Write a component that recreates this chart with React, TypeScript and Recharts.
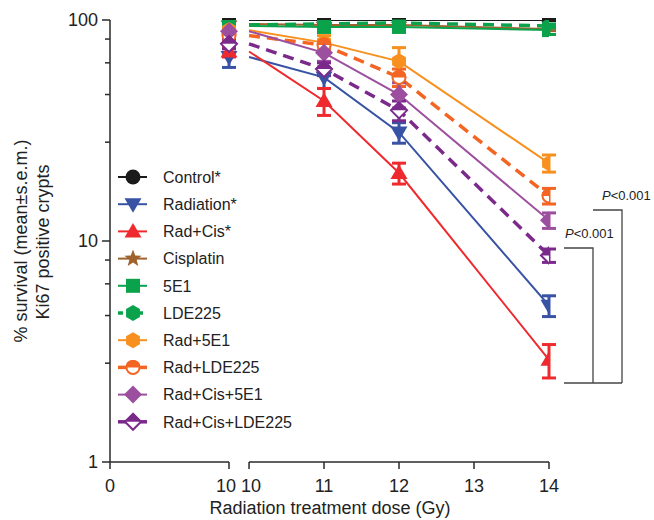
import React from 'react';
import { ComposedChart, Line, Scatter, XAxis, YAxis, ErrorBar, ReferenceLine } from 'recharts';

// ---- data ----
const doses = [10, 11, 12, 14];
const xTickDoses = [0, 10, 10, 11, 12, 13, 14];
const yTicks = [1, 2.8, 4.6, 6.4, 8.2, 10, 28, 46, 64, 82, 100];
const yMajor = [1, 10, 100];

const controlVals = [100, 100, 100, 100];
const controlErr = [0.5, 0.5, 0.5, 0.5];
const radiationVals = [68, 55, 31, 5.1];
const radiationErr = [7, 6, 3.3, 0.55];
const radCisVals = [72, 43, 20.3, 2.9];
const radCisErr = [4, 6, 2.2, 0.5];
const cisplatinVals = [96, 95, 95, 91];
const cisplatinErr = [2, 1.5, 1.5, 1.5];
const e5e1Vals = [94, 93, 93, 90];
const e5e1Err = [3, 4, 4, 4];
const lde225Vals = [95, 96, 97, 94];
const lde225Err = [2, 2, 2, 2];
const rad5e1Vals = [90, 79, 65, 22.5];
const rad5e1Err = [4, 6, 10, 2];
const radLdeVals = [85, 77, 55, 16];
const radLdeErr = [4, 4, 5, 1.3];
const radCis5e1Vals = [89, 71, 46, 12.4];
const radCis5e1Err = [6, 6, 6, 1];
const radCisLdeVals = [78, 60, 39, 8.6];
const radCisLdeErr = [4, 4, 4, 0.6];

const seriesNames = ['Control*', 'Radiation*', 'Rad+Cis*', 'Cisplatin', '5E1', 'LDE225', 'Rad+5E1', 'Rad+LDE225', 'Rad+Cis+5E1', 'Rad+Cis+LDE225'];

// ---- styles ----
const series = [
  { name: seriesNames[0], vals: controlVals, err: controlErr, color: '#1b1b1b', shape: 'circle', dashed: false, legend: 'solid' },
  { name: seriesNames[1], vals: radiationVals, err: radiationErr, color: '#3953a4', shape: 'triDown', dashed: false, legend: 'solid' },
  { name: seriesNames[2], vals: radCisVals, err: radCisErr, color: '#ee2a2e', shape: 'triUp', dashed: false, legend: 'solid' },
  { name: seriesNames[3], vals: cisplatinVals, err: cisplatinErr, color: '#a0622d', shape: 'star', dashed: false, legend: 'solid' },
  { name: seriesNames[4], vals: e5e1Vals, err: e5e1Err, color: '#0ba24c', shape: 'square', dashed: false, legend: 'solid' },
  { name: seriesNames[5], vals: lde225Vals, err: lde225Err, color: '#0ba24c', shape: 'hexagon', dashed: true, legend: 'dash' },
  { name: seriesNames[6], vals: rad5e1Vals, err: rad5e1Err, color: '#f7901e', shape: 'hexagon', dashed: false, legend: 'solid' },
  { name: seriesNames[7], vals: radLdeVals, err: radLdeErr, color: '#f26522', shape: 'halfCircle', dashed: true, legend: 'thick' },
  { name: seriesNames[8], vals: radCis5e1Vals, err: radCis5e1Err, color: '#9d4f9f', shape: 'diamond', dashed: false, legend: 'solid' },
  { name: seriesNames[9], vals: radCisLdeVals, err: radCisLdeErr, color: '#7b2a8c', shape: 'halfDiamond', dashed: true, legend: 'thick' },
];

// broken x axis: 0–10 compressed, gap, then 10–14
const SEG1 = 1.587;
const GAP = 0.267;
const xPos = (d: number, first: boolean) => (first ? (d / 10) * SEG1 : SEG1 + GAP + (d - 10));
const xTicks = xTickDoses.map((d, i) => xPos(d, i < 2));
const X_MAX = xPos(14, false);
const xTickShift = [0, -3, 2, 0, 0, 0, 0];

const AX = '#2a2a2a';
const FONT = 'Liberation Sans, Arial, Helvetica, sans-serif';

function Marker({ shape, color, cx, cy }: { shape: string; color: string; cx: number; cy: number }) {
  const s = 7.5;
  switch (shape) {
    case 'circle':
      return <circle cx={cx} cy={cy} r={s} fill={color} />;
    case 'triDown':
      return <polygon points={`${cx - 8.5},${cy - 6} ${cx + 8.5},${cy - 6} ${cx},${cy + 8.5}`} fill={color} />;
    case 'triUp':
      return <polygon points={`${cx - 8.5},${cy + 6} ${cx + 8.5},${cy + 6} ${cx},${cy - 8.5}`} fill={color} />;
    case 'star': {
      const pts: string[] = [];
      for (let k = 0; k < 10; k++) {
        const r = k % 2 === 0 ? 9 : 3.8;
        const a = -Math.PI / 2 + (k * Math.PI) / 5;
        pts.push(`${cx + r * Math.cos(a)},${cy + r * Math.sin(a)}`);
      }
      return <polygon points={pts.join(' ')} fill={color} />;
    }
    case 'square':
      return <rect x={cx - 7} y={cy - 7} width={14} height={14} fill={color} />;
    case 'hexagon': {
      const pts: string[] = [];
      for (let k = 0; k < 6; k++) {
        const a = -Math.PI / 2 + (k * Math.PI) / 3;
        pts.push(`${cx + 8 * Math.cos(a)},${cy + 8 * Math.sin(a)}`);
      }
      return <polygon points={pts.join(' ')} fill={color} />;
    }
    case 'halfCircle':
      return (
        <g>
          <circle cx={cx} cy={cy} r={6.5} fill="#fff" stroke={color} strokeWidth={2} />
          <path d={`M ${cx - 7.5} ${cy} A 7.5 7.5 0 0 1 ${cx + 7.5} ${cy} Z`} fill={color} />
        </g>
      );
    case 'diamond':
      return <polygon points={`${cx},${cy - 9} ${cx + 9},${cy} ${cx},${cy + 9} ${cx - 9},${cy}`} fill={color} />;
    case 'halfDiamond':
      return (
        <g>
          <polygon points={`${cx},${cy - 8} ${cx + 8},${cy} ${cx},${cy + 8} ${cx - 8},${cy}`} fill="#fff" stroke={color} strokeWidth={2} />
          <polygon points={`${cx},${cy - 9} ${cx + 9},${cy} ${cx - 9},${cy}`} fill={color} />
        </g>
      );
    default:
      return null;
  }
}

const XTick = (props: any) => {
  const { x, y, index } = props;
  return (
    <text x={x + xTickShift[index]} y={y} dy="0.71em" textAnchor="middle" fontSize={18} fontFamily={FONT} fill="#222">
      {xTickDoses[index]}
    </text>
  );
};

const YTick = (props: any) => {
  const { x, y, payload } = props;
  const v = payload.value;
  const major = yMajor.includes(v);
  return (
    <g>
      <line x1={x - (major ? 8 : 5)} x2={x} y1={y} y2={y} stroke={AX} strokeWidth={1.5} />
      {major && (
        <text x={x - 12} y={y} dy="0.36em" textAnchor="end" fontSize={18} fontFamily={FONT} fill="#222">
          {v}
        </text>
      )}
    </g>
  );
};

export default function App() {
  return (
    <div style={{ position: 'absolute', left: 0, top: 0, width: 654, height: 520, background: '#fff' }}>
      <ComposedChart width={654} height={520} margin={{ top: 20, right: 105, bottom: 28, left: 50 }}>
        <XAxis
          type="number"
          dataKey="x"
          domain={[0, X_MAX]}
          ticks={xTicks}
          interval={0}
          axisLine={false}
          tickLine={{ stroke: AX, strokeWidth: 1.5 }}
          tickSize={7}
          tickMargin={10}
          tick={<XTick />}
          height={30}
          allowDataOverflow
        />
        <YAxis
          type="number"
          dataKey="y"
          scale="log"
          domain={[1, 100]}
          ticks={yTicks}
          interval={0}
          axisLine={{ stroke: AX, strokeWidth: 1.5 }}
          tickLine={false}
          tickSize={0}
          tickMargin={0}
          tick={<YTick />}
          width={60}
          allowDataOverflow
        />
        <ReferenceLine segment={[{ x: 0, y: 1 }, { x: xPos(10, true), y: 1 }]} stroke={AX} strokeWidth={1.5} />
        <ReferenceLine segment={[{ x: xPos(10, false), y: 1 }, { x: X_MAX, y: 1 }]} stroke={AX} strokeWidth={1.5} />
        {series.map((s) => (
          <Line
            key={'l' + s.name}
            data={doses.map((d, i) => ({ x: xPos(d, false), y: s.vals[i] }))}
            dataKey="y"
            stroke={s.color}
            strokeWidth={s.dashed ? 3.5 : 2}
            strokeDasharray={s.dashed ? '11 7' : undefined}
            dot={false}
            activeDot={false}
            isAnimationActive={false}
            legendType="none"
          />
        ))}
        {series.map((s) => (
          <Scatter
            key={'s' + s.name}
            name={s.name}
            data={doses.map((d, i) => ({ x: xPos(d, d === 10), y: s.vals[i], e: [s.err[i], s.err[i]] }))}
            dataKey="y"
            fill={s.color}
            isAnimationActive={false}
            shape={(p: any) => <Marker shape={s.shape} color={s.color} cx={p.cx} cy={p.cy} />}
          >
            <ErrorBar dataKey="e" direction="y" width={7} stroke={s.color} strokeWidth={3} />
          </Scatter>
        ))}
      </ComposedChart>
      <svg width={654} height={520} style={{ position: 'absolute', left: 0, top: 0, pointerEvents: 'none' }}>
        {/* axis titles */}
        <text x={330} y={514} textAnchor="middle" fontSize={18} fontFamily={FONT} fill="#222">
          Radiation treatment dose (Gy)
        </text>
        <text x={27} y={241} transform="rotate(-90 27 241)" textAnchor="middle" fontSize={18} fontFamily={FONT} fill="#222">
          % survival (mean±s.e.m.)
        </text>
        <text x={49} y={242} transform="rotate(-90 49 242)" textAnchor="middle" fontSize={18} fontFamily={FONT} fill="#222">
          Ki67 positive crypts
        </text>
        {/* legend */}
        {series.map((s, i) => {
          const cy = 177 + i * 27.2;
          return (
            <g key={'lg' + s.name}>
              <line
                x1={118}
                x2={147}
                y1={cy}
                y2={cy}
                stroke={s.color}
                strokeWidth={s.legend === 'solid' ? 2 : 3.5}
                strokeDasharray={s.legend === 'dash' ? '5 5' : undefined}
              />
              <Marker shape={s.shape} color={s.color} cx={133} cy={cy} />
              <text x={163} y={cy} dy="0.36em" fontSize={16} fontFamily={FONT} fill="#222">
                {s.name}
              </text>
            </g>
          );
        })}
        {/* significance brackets */}
        <polyline points="564,248 593,248 593,383" fill="none" stroke="#444" strokeWidth={1.3} />
        <polyline points="593,210 622,210 622,383" fill="none" stroke="#444" strokeWidth={1.3} />
        <line x1={564} x2={622} y1={383} y2={383} stroke="#444" strokeWidth={1.3} />
        <text x={565} y={238} fontSize={13} fontFamily={FONT} fill="#222">
          <tspan fontStyle="italic">P</tspan>&lt;0.001
        </text>
        <text x={602} y={200} fontSize={13} fontFamily={FONT} fill="#222">
          <tspan fontStyle="italic">P</tspan>&lt;0.001
        </text>
      </svg>
    </div>
  );
}
